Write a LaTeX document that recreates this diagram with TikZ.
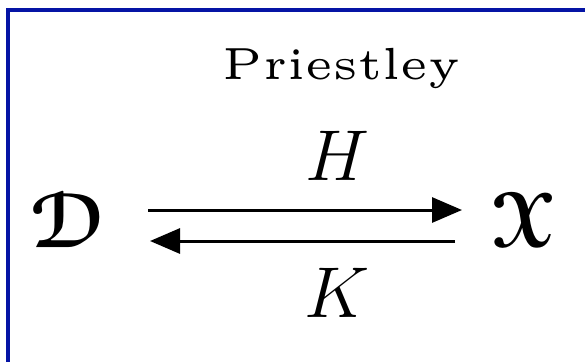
\documentclass[tikz,border=0pt]{standalone}
\usepackage{amsmath}
\usepackage[mathscr]{eucal}
\usetikzlibrary{arrows.meta}
\definecolor{frameblue}{RGB}{5,20,165}
\begin{document}
\begin{tikzpicture}[x=0.2pt,y=-0.2pt,>={Triangle[length=6pt,width=5pt]},
  lbl/.style={inner sep=0pt,anchor=base,font=\fontsize{15.5}{18}\selectfont},
  obj/.style={inner sep=0pt,font=\fontsize{15.5}{18}\selectfont}]
\useasboundingbox (0,0) rectangle (585,361);
\draw[frameblue,line width=0.7pt] (8,10) rectangle (620,400);

\node[inner sep=0pt,anchor=base] (title) at (341.5,79)
  {\scalebox{1.8}{\fontsize{5}{6}\selectfont Priestley}};
\node[obj] (D) at (67.5,220.5) {$\boldsymbol{\mathscr{D}}$};
\node[obj] (X) at (523.5,220) {$\boldsymbol{\mathscr{X}}$};

\coordinate (hs) at (148,210);
\coordinate (he) at (462,210);
\coordinate (ks) at (455,241);
\coordinate (ke) at (150,241);

\draw[->,line width=0.6pt] (hs) -- (he);
\draw[->,line width=0.6pt] (ks) -- (ke);
\node[lbl] (H) at (337,180) {$H$};
\node[lbl] (K) at (337,317) {$K$};
\end{tikzpicture}
\end{document}
